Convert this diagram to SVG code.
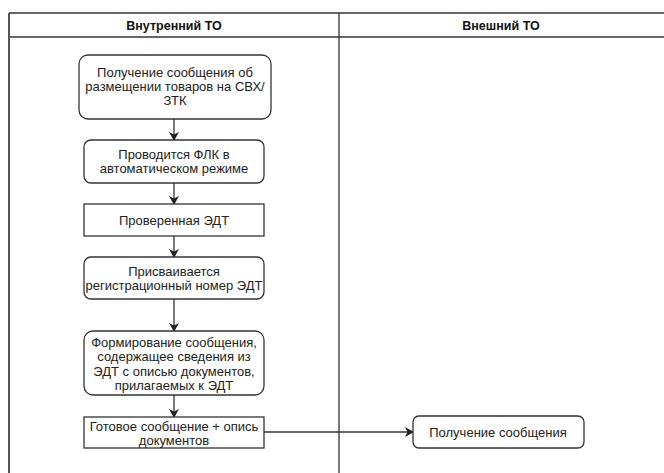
<svg xmlns="http://www.w3.org/2000/svg" width="664" height="473" viewBox="0 0 664 473">
<style>
.t{font-family:"Liberation Sans",Arial,sans-serif;font-size:13px;fill:#222;text-anchor:middle}
.h{font-family:"Liberation Sans",Arial,sans-serif;font-size:12.5px;font-weight:bold;fill:#111;text-anchor:middle}
.n{fill:#fff;stroke:#333;stroke-width:1.3}
.c{fill:none;stroke:#333;stroke-width:1.3;marker-end:url(#a)}
.g{stroke:#333;stroke-width:1.3;fill:none}
</style>
<defs>
<marker id="a" markerWidth="10" markerHeight="10" refX="8" refY="5" orient="auto" markerUnits="userSpaceOnUse">
<path d="M0,0 L9,5 L0,10 L2.5,5 Z" fill="#222"/>
</marker>
</defs>
<rect width="664" height="473" fill="#fff"/>
<g id="table">
<line class="g" x1="9" y1="13" x2="664" y2="13"/>
<line class="g" x1="9" y1="37" x2="664" y2="37"/>
<line x1="9" y1="13" x2="9" y2="473" stroke="#555" stroke-width="2"/>
<line class="g" x1="339" y1="13" x2="339" y2="473"/>
<text class="h" x="174" y="30">Внутренний ТО</text>
<text class="h" x="501" y="30">Внешний ТО</text>
</g>
<g id="connectors">
<line class="c" x1="174" y1="119" x2="174" y2="140"/>
<line class="c" x1="174" y1="183" x2="174" y2="204"/>
<line class="c" x1="174" y1="236" x2="174" y2="257"/>
<line class="c" x1="174" y1="299" x2="174" y2="331"/>
<line class="c" x1="174" y1="395" x2="174" y2="417"/>
<line class="c" x1="264" y1="432" x2="413" y2="432"/>
</g>
<g id="n1">
<rect class="n" x="79" y="55" width="192" height="64" rx="9"/>
<text class="t" x="175" y="77">Получение сообщения об</text>
<text class="t" x="175" y="91">размещении товаров на СВХ/</text>
<text class="t" x="175" y="105">ЗТК</text>
</g>
<g id="n2">
<rect class="n" x="84" y="140" width="180" height="43" rx="7"/>
<text class="t" x="174" y="159">Проводится ФЛК в</text>
<text class="t" x="174" y="173">автоматическом режиме</text>
</g>
<g id="n3">
<rect class="n" x="84" y="204" width="180" height="32"/>
<text class="t" x="174" y="225">Проверенная ЭДТ</text>
</g>
<g id="n4">
<rect class="n" x="84" y="257" width="180" height="42" rx="7"/>
<text class="t" x="174" y="276">Присваивается</text>
<text class="t" x="174" y="290">регистрационный номер ЭДТ</text>
</g>
<g id="n5">
<rect class="n" x="84" y="331" width="180" height="64" rx="9"/>
<text class="t" x="174" y="347">Формирование сообщения,</text>
<text class="t" x="174" y="361">содержащее сведения из</text>
<text class="t" x="174" y="376">ЭДТ с описью документов,</text>
<text class="t" x="174" y="390">прилагаемых к ЭДТ</text>
</g>
<g id="n6">
<rect class="n" x="84" y="417" width="180" height="31"/>
<text class="t" x="174" y="431">Готовое сообщение + опись</text>
<text class="t" x="174" y="445">документов</text>
</g>
<g id="n7">
<rect class="n" x="413" y="416" width="171" height="32" rx="6"/>
<text class="t" x="498" y="437">Получение сообщения</text>
</g>
</svg>
